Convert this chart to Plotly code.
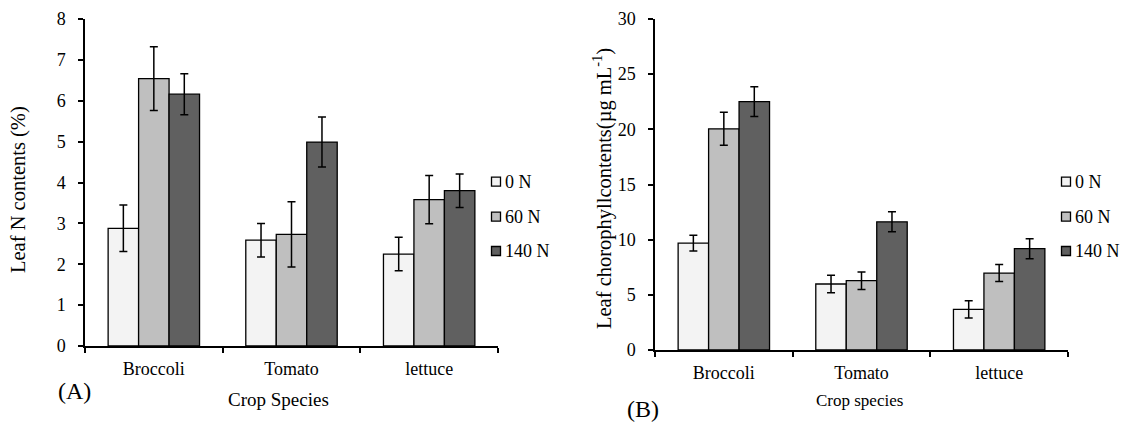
import plotly.graph_objects as go

# ---- data -------------------------------------------------------------
species = ["Broccoli", "Tomato", "lettuce"]
levels = ["0 N", "60 N", "140 N"]

# Leaf N contents (%)
leaf_n_0 = [2.88, 2.59, 2.25]
leaf_n_60 = [6.54, 2.73, 3.58]
leaf_n_140 = [6.16, 4.99, 3.80]
leaf_n_0_err = [0.57, 0.41, 0.41]
leaf_n_60_err = [0.78, 0.80, 0.59]
leaf_n_140_err = [0.50, 0.61, 0.41]

# Leaf chlorophyll contents (ug/mL)
chl_0 = [9.69, 5.98, 3.68]
chl_60 = [20.05, 6.28, 6.97]
chl_140 = [22.52, 11.62, 9.18]
chl_0_err = [0.72, 0.80, 0.78]
chl_60_err = [1.50, 0.80, 0.77]
chl_140_err = [1.35, 0.90, 0.90]

n_ticks = [0, 1, 2, 3, 4, 5, 6, 7, 8]
chl_ticks = [0, 5, 10, 15, 20, 25, 30]

# ---- styling ----------------------------------------------------------
W, H = 1126, 423
FONT = "Liberation Serif, Times New Roman, serif"
fills = ["#f3f3f3", "#bfbfbf", "#606060"]


def px_x(x):
    return x / W


def px_y(y):
    return 1 - y / H


fig = go.Figure()

panels = [
    ("x", "y", [leaf_n_0, leaf_n_60, leaf_n_140],
     [leaf_n_0_err, leaf_n_60_err, leaf_n_140_err]),
    ("x2", "y2", [chl_0, chl_60, chl_140],
     [chl_0_err, chl_60_err, chl_140_err]),
]

for xa, ya, series, errs in panels:
    for lvl, vals, err, col in zip(levels, series, errs, fills):
        fig.add_trace(go.Bar(
            x=species, y=vals, name=lvl, xaxis=xa, yaxis=ya,
            marker=dict(color=col, line=dict(color="black", width=1.3)),
            error_y=dict(type="data", array=err, color="black",
                         thickness=1.5, width=4),
            showlegend=False,
        ))

axis_common = dict(
    showline=True, linecolor="black", linewidth=1.5,
    ticks="outside", ticklen=5, tickwidth=1.5, tickcolor="black",
    showgrid=False, zeroline=False, automargin=False,
    tickfont=dict(family=FONT, size=18, color="black"),
)

fig.update_layout(
    template="none",
    width=W, height=H,
    margin=dict(l=0, r=0, t=0, b=0, pad=0),
    paper_bgcolor="white", plot_bgcolor="white",
    barmode="group", bargap=0.336, bargroupgap=0,
    font=dict(family=FONT, size=18, color="black"),
    xaxis=dict(domain=[px_x(85), px_x(498)], type="category",
               range=[-0.5, 2.5], tickson="boundaries",
               ticklabelstandoff=6, anchor="y", **axis_common),
    yaxis=dict(domain=[px_y(346), px_y(19)], range=[0, 8],
               tickvals=n_ticks, ticklabelstandoff=9, anchor="x",
               **axis_common),
    xaxis2=dict(domain=[px_x(655), px_x(1068)], type="category",
                range=[-0.5, 2.5], tickson="boundaries",
                ticklabelstandoff=6, anchor="y2", **axis_common),
    yaxis2=dict(domain=[px_y(350), px_y(19)], range=[0, 30],
                tickvals=chl_ticks, ticklabelstandoff=9, anchor="x2",
                **axis_common),
)

annotations = [
    dict(text="Leaf N contents (%)", x=px_x(18), y=px_y(190),
         textangle=-90, font=dict(size=20.5)),
    dict(text="Leaf chorophyllcontents(µg mL<sup>-1</sup>)",
         x=px_x(602), y=px_y(189), textangle=-90, font=dict(size=20.5)),
    dict(text="Crop Species", x=px_x(278), y=px_y(399), font=dict(size=19)),
    dict(text="Crop species", x=px_x(860), y=px_y(400), font=dict(size=17)),
    dict(text="(A)", x=px_x(74), y=px_y(391), font=dict(size=24)),
    dict(text="(B)", x=px_x(643), y=px_y(409), font=dict(size=24)),
]

shapes = []
legend_rows = [181.7, 216.7, 251.0]
for left in (491.5, 1061.5):
    for lvl, col, yc in zip(levels, fills, legend_rows):
        shapes.append(dict(
            type="rect", xref="paper", yref="paper",
            x0=px_x(left), x1=px_x(left + 9),
            y0=px_y(yc + 4.5), y1=px_y(yc - 4.5),
            fillcolor=col, line=dict(color="black", width=1.3),
        ))
        annotations.append(dict(
            text=lvl, x=px_x(left + 11), y=px_y(yc),
            xanchor="left", font=dict(size=18),
        ))

for a in annotations:
    a.setdefault("xref", "paper")
    a.setdefault("yref", "paper")
    a.setdefault("showarrow", False)
    a.setdefault("xanchor", "center")
    a.setdefault("yanchor", "middle")
    a["font"] = dict(family=FONT, color="black", **a["font"])

fig.update_layout(annotations=annotations, shapes=shapes)

fig.write_html("out.html")
